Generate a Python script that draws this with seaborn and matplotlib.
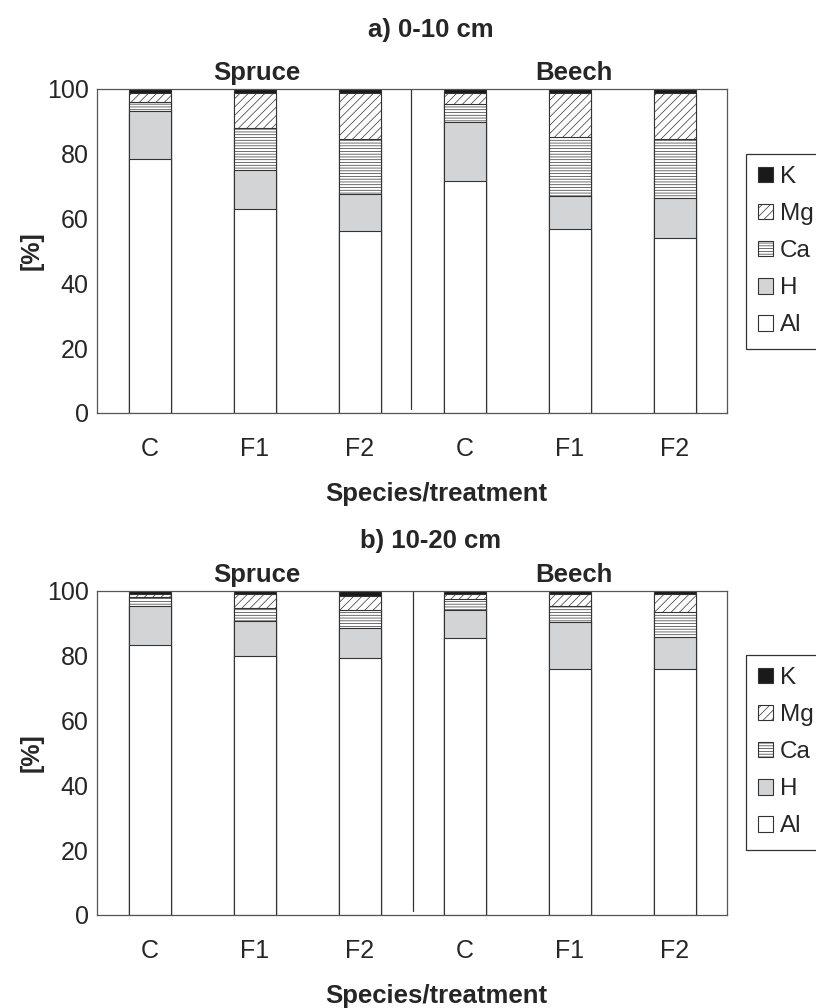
import pandas as pd
import matplotlib
matplotlib.use("Agg")
import matplotlib.pyplot as plt
import matplotlib.patches as mpatches
import seaborn as sns

# bar order along the x axis
species = ["Spruce", "Spruce", "Spruce", "Beech", "Beech", "Beech"]
treatments = ["C", "F1", "F2", "C", "F1", "F2"]

# exchangeable cations [%]
al_0_10 = [78.3, 62.9, 56.1, 71.6, 56.8, 54.0]
h_0_10 = [14.9, 12.0, 11.5, 18.1, 10.1, 12.3]
ca_0_10 = [2.8, 13.0, 16.9, 5.7, 18.2, 18.2]
mg_0_10 = [2.7, 10.8, 14.2, 3.3, 13.6, 14.2]
k_0_10 = [1.3, 1.3, 1.3, 1.3, 1.3, 1.3]

al_10_20 = [83.3, 79.9, 79.2, 85.4, 75.8, 75.8]
h_10_20 = [12.1, 10.8, 9.3, 8.7, 14.7, 10.1]
ca_10_20 = [2.8, 4.2, 5.6, 3.4, 4.9, 7.5]
mg_10_20 = [0.9, 4.1, 4.4, 1.6, 3.7, 5.7]
k_10_20 = [0.9, 1.0, 1.5, 0.9, 0.9, 0.9]

elements = ["Al", "H", "Ca", "Mg", "K"]
fills = {"Al": "white", "H": "#d3d4d6", "Ca": "white", "Mg": "white", "K": "#1a1a1a"}
hatches = {"Al": None, "H": None, "Ca": "------", "Mg": "////", "K": None}

sns.set_style("white")
plt.rcParams["font.family"] = ["Liberation Sans", "DejaVu Sans"]
plt.rcParams["hatch.linewidth"] = 0.5

fig = plt.figure(figsize=(8.16, 10.08), dpi=100)
W, H = 816, 1008


def make_df(parts):
    df = pd.DataFrame({"group": [s + " " + t for s, t in zip(species, treatments)]})
    total = [0.0] * len(species)
    for el, vals in zip(elements, parts):
        total = [a + b for a, b in zip(total, vals)]
        df[el] = total  # cumulative top of each segment
    return df


def draw_panel(ax, df, title, title_px, legend_top_px, divider):
    # tallest first, each next segment painted over the lower part
    for el in reversed(elements):
        sns.barplot(data=df, x="group", y=el, ax=ax, color=fills[el],
                    saturation=1, width=0.4, errorbar=None,
                    edgecolor="#333333", linewidth=0.8, hatch=hatches[el])
    ax.set_ylim(0, 100)
    ax.set_xlim(-0.5, 5.5)
    ax.set_yticks([0, 20, 40, 60, 80, 100])
    ax.set_xticks(range(6))
    ax.set_xticklabels(treatments)
    ax.tick_params(axis="y", direction="in", length=6, width=0.8, labelsize=18, pad=6)
    ax.tick_params(axis="x", length=0, labelsize=18, pad=17)
    for sp in ax.spines.values():
        sp.set_visible(True)
        sp.set_color("#555555")
        sp.set_linewidth(0.9)
    ax.axvline(divider, ymin=0.012, ymax=1, color="#333333", lw=0.9)
    ax.set_ylabel("[%]", fontsize=18, fontweight="bold")
    ax.yaxis.set_label_coords(-0.085, 0.5)
    ax.set_xlabel("Species/treatment", fontsize=18.5, fontweight="bold", va="top")
    ax.xaxis.set_label_coords((436 - 97) / 630, -0.212)
    ax.text(1.02, 1.012, "Spruce", transform=ax.get_xaxis_transform(),
            ha="center", va="bottom", fontsize=18.5, fontweight="bold")
    ax.text(4.04, 1.012, "Beech", transform=ax.get_xaxis_transform(),
            ha="center", va="bottom", fontsize=18.5, fontweight="bold")
    fig.text(431 / W, 1 - title_px / H, title, ha="center", va="center",
             fontsize=18.5, fontweight="bold")
    handles = [mpatches.Patch(facecolor=fills[el], edgecolor="#333333",
                              hatch=hatches[el], linewidth=0.8, label=el)
               for el in reversed(elements)]
    leg = fig.legend(handles=handles, loc="upper left",
                     bbox_to_anchor=(746 / W, 1 - legend_top_px / H),
                     borderaxespad=0, fontsize=17.5, handlelength=0.6,
                     handleheight=0.6, handletextpad=0.3, labelspacing=0.62,
                     borderpad=0.5, frameon=True, fancybox=False,
                     edgecolor="#333333", framealpha=1)
    leg.get_frame().set_linewidth(0.9)


ax1 = fig.add_axes([97 / W, 1 - 413 / H, 630 / W, 324 / H])
draw_panel(ax1, make_df([al_0_10, h_0_10, ca_0_10, mg_0_10, k_0_10]),
           "a) 0-10 cm", 30, 154, 2.49)

ax2 = fig.add_axes([97 / W, 1 - 915 / H, 630 / W, 324 / H])
draw_panel(ax2, make_df([al_10_20, h_10_20, ca_10_20, mg_10_20, k_10_20]),
           "b) 10-20 cm", 541, 655, 2.51)

fig.savefig("out.png", dpi=100)
